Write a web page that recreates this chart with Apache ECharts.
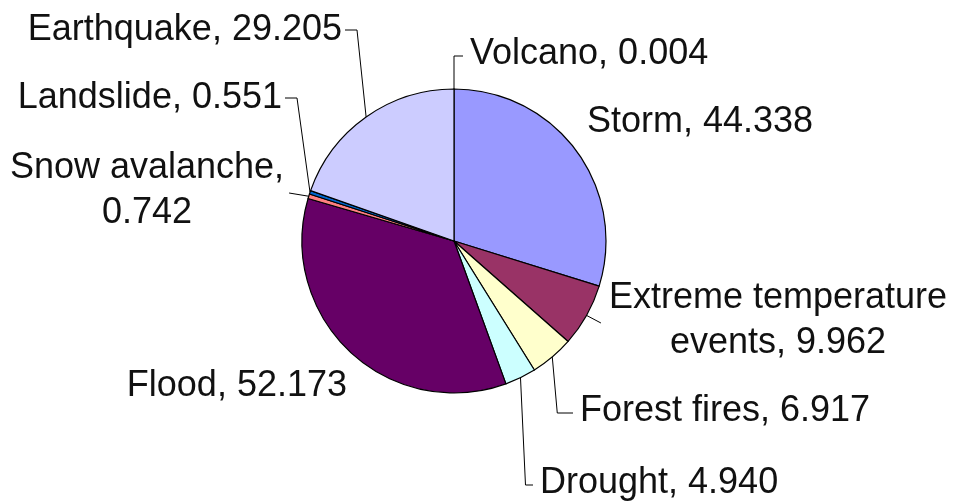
<!DOCTYPE html>
<html>
<head>
<meta charset="utf-8">
<script src="https://cdn.jsdelivr.net/npm/echarts@6/dist/echarts.min.js"></script>
<style>
html, body { margin: 0; padding: 0; background: #fff; }
#chart { width: 959px; height: 502px; }
</style>
</head>
<body>
<div id="chart"></div>
<script>
// slices, clockwise from 12 o'clock
var categories = ['Volcano', 'Storm', 'Extreme temperature\nevents', 'Forest fires', 'Drought',
                  'Flood', 'Snow avalanche', 'Landslide', 'Earthquake'];
var values = [0.004, 44.338, 9.962, 6.917, 4.940, 52.173, 0.742, 0.551, 29.205];
var colors = ['#000080', '#9999FF', '#993366', '#FFFFCC', '#CCFFFF',
              '#660066', '#FF8080', '#0066CC', '#CCCCFF'];
// where each label sits: anchor x, anchor y, text align, leader style
var labelPlace = [
    [470, 54, 'left', 'vertical'],
    [587, 122, 'left', 'none'],
    [778, 321, 'center', 'direct'],
    [580, 411, 'left', 'vertical'],
    [540, 483, 'left', 'vertical'],
    [347, 386, 'right', 'none'],
    [147, 191, 'center', 'direct'],
    [282, 98, 'right', 'side'],
    [342, 30, 'right', 'side']
];

var chart = echarts.init(document.getElementById('chart'), null, {renderer: 'canvas'});

var pieData = categories.map(function (c, i) {
    return {
        name: c,
        value: values[i],
        itemStyle: {color: colors[i]},
        labelLine: {show: labelPlace[i][3] != 'none'}
    };
});

chart.setOption({
    animation: false,
    backgroundColor: '#fff',
    series: [{
        type: 'pie',
        center: [454, 241],
        radius: 152,
        startAngle: 90,
        clockwise: true,
        avoidLabelOverlap: false,
        silent: true,
        data: pieData,
        itemStyle: {borderColor: '#000', borderWidth: 1.2},
        label: {
            show: true,
            position: 'outside',
            color: '#111',
            fontFamily: '"Liberation Sans", Arial, sans-serif',
            fontSize: 36,
            lineHeight: 45,
            formatter: function (p) {
                var sep = p.name == 'Snow avalanche' ? ',\n' : ', ';
                return p.name + sep + p.value.toFixed(3);
            }
        },
        labelLine: {show: true, lineStyle: {color: '#000', width: 1}},
        labelLayout: function (params) {
            var i = params.dataIndex;
            var pl = labelPlace[i];
            var ax = pl[0], ay = pl[1], w = params.labelRect.width;
            var left = pl[2] == 'left' ? ax : (pl[2] == 'right' ? ax - w : ax - w / 2);
            var right = left + w;
            var res = {x: ax, y: ay, align: pl[2], verticalAlign: 'middle'};
            var pts = params.labelLinePoints;
            if (pts && pl[3] != 'none') {
                var s = pts[0];
                if (pl[3] == 'side') {
                    res.labelLinePoints = [s, [right + 15, ay], [right + 3, ay]];
                } else if (pl[3] == 'vertical') {
                    res.labelLinePoints = [s, [s[0] + 5 * (i > 0 ? 1 : 0), ay + 2], [left - 7, ay + 2]];
                } else if (pl[2] == 'center' && s[0] < ax) {
                    res.labelLinePoints = [s, [left - 8, ay + 2], [left - 8, ay + 2]];
                } else {
                    res.labelLinePoints = [s, [right + 5, ay + 2], [right + 5, ay + 2]];
                }
            }
            return res;
        }
    }]
});
</script>
</body>
</html>
